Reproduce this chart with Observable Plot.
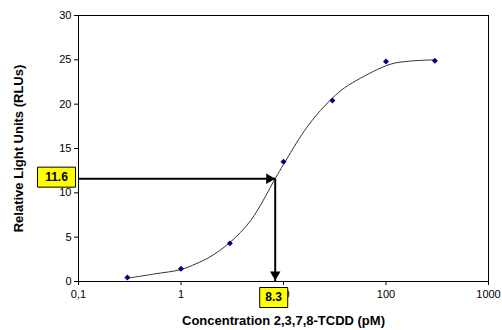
<!DOCTYPE html>
<html><head><meta charset="utf-8">
<script src="https://cdn.jsdelivr.net/npm/d3@7"></script>
<script src="https://cdn.jsdelivr.net/npm/@observablehq/plot@0.6"></script>
<style>
html,body{margin:0;padding:0;background:#fff;}
#chart svg{font-family:"Liberation Sans",Arial,sans-serif;display:block;}
</style></head><body><div id="chart"></div>
<script>
// measured points
const conc = [0.3, 1, 3, 10, 30, 100, 300];
const rlu = [0.45, 1.45, 4.3, 13.5, 20.4, 24.8, 24.9];
// fitted curve
const fitConc = [0.3, 0.55, 1, 1.4, 1.9, 3, 4.8, 8.3, 10, 16, 23, 36, 52, 110, 170, 300];
const fitRlu = [0.37, 0.85, 1.35, 2.0, 2.75, 4.4, 6.9, 11.6, 13.2, 17.0, 19.3, 21.5, 22.7, 24.5, 24.85, 25.0];
// axes
const xTicks = [0.1, 1, 10, 100, 1000];
const xTickLabels = ["0,1", "1", "10", "100", "1000"];
const yTicks = [0, 5, 10, 15, 20, 25, 30];
const xTitle = "Concentration 2,3,7,8-TCDD (pM)";
const yTitle = "Relative Light Units (RLUs)";
// read-out
const readX = 8.3;
const readY = 11.6;
const readXLabel = "8.3";
const readYLabel = "11.6";

const points = conc.map((c, i) => ({c, r: rlu[i]}));
const fit = fitConc.map((c, i) => ({c, r: fitRlu[i]}));
const xMin = xTicks[0];

function boxSymbol(w, h) {
  return {draw(ctx) { ctx.rect(-w / 2, -h / 2, w, h); }};
}
const yLab = [{x: xMin, y: readY, t: readYLabel}];
const xLab = [{x: readX, y: 0, t: readXLabel}];
const yLabOff = {dx: -22, dy: -1.5};
const xLabOff = {dx: -1.5, dy: 16};

const chart = Plot.plot({
  width: 502, height: 330,
  marginLeft: 78, marginRight: 14, marginTop: 15, marginBottom: 49,
  style: {fontFamily: "Liberation Sans, Arial, sans-serif", fontSize: "11px", color: "#000", background: "#fff"},
  x: {type: "log", domain: [0.1, 1000], ticks: xTicks, tickFormat: d => xTickLabels[xTicks.indexOf(d)], tickSize: 4, tickPadding: 5, label: null},
  y: {domain: [0, 30], ticks: yTicks, tickSize: 4, tickPadding: 3, label: null},
  marks: [
    Plot.frame({stroke: "#000", strokeWidth: 1}),
    Plot.line(fit, {x: "c", y: "r", stroke: "#333", strokeWidth: 1, curve: "catmull-rom"}),
    Plot.dot(points, {x: "c", y: "r", symbol: "diamond2", r: 2.7, fill: "#000080", stroke: "none"}),
    Plot.link([{x1: xMin, x2: readX, y1: readY, y2: readY}, {x1: readX, x2: readX, y1: readY, y2: 0}],
      {x1: "x1", x2: "x2", y1: "y1", y2: "y2", stroke: "#000", strokeWidth: 2, clip: false}),
    Plot.dot([{x: readX, y: readY}], {x: "x", y: "y", symbol: "triangle", r: 3.9, rotate: 90, dx: -6, fill: "#000", stroke: "none"}),
    Plot.dot([{x: readX, y: 0}], {x: "x", y: "y", symbol: "triangle", r: 3.9, rotate: 180, dy: -7, fill: "#000", stroke: "none"}),
    Plot.dot(yLab, {x: "x", y: "y", ...yLabOff, symbol: boxSymbol(38, 20), r: 5, fill: "#ffff00", stroke: "#000", strokeWidth: 1}),
    Plot.dot(xLab, {x: "x", y: "y", ...xLabOff, symbol: boxSymbol(28, 20), r: 5, fill: "#ffff00", stroke: "#000", strokeWidth: 1}),
    Plot.text(yLab, {x: "x", y: "y", text: "t", ...yLabOff, fontWeight: "bold", fontSize: 12}),
    Plot.text(xLab, {x: "x", y: "y", text: "t", ...xLabOff, fontWeight: "bold", fontSize: 12}),
    Plot.text([yTitle], {frameAnchor: "left", text: d => d, rotate: -90, dx: -60, textAnchor: "middle", lineAnchor: "middle", fontWeight: "bold", fontSize: 13}),
    Plot.text([xTitle], {frameAnchor: "bottom", text: d => d, dy: 39, textAnchor: "middle", lineAnchor: "middle", fontWeight: "bold", fontSize: 13})
  ]
});
document.getElementById("chart").appendChild(chart);
</script>
</body></html>
